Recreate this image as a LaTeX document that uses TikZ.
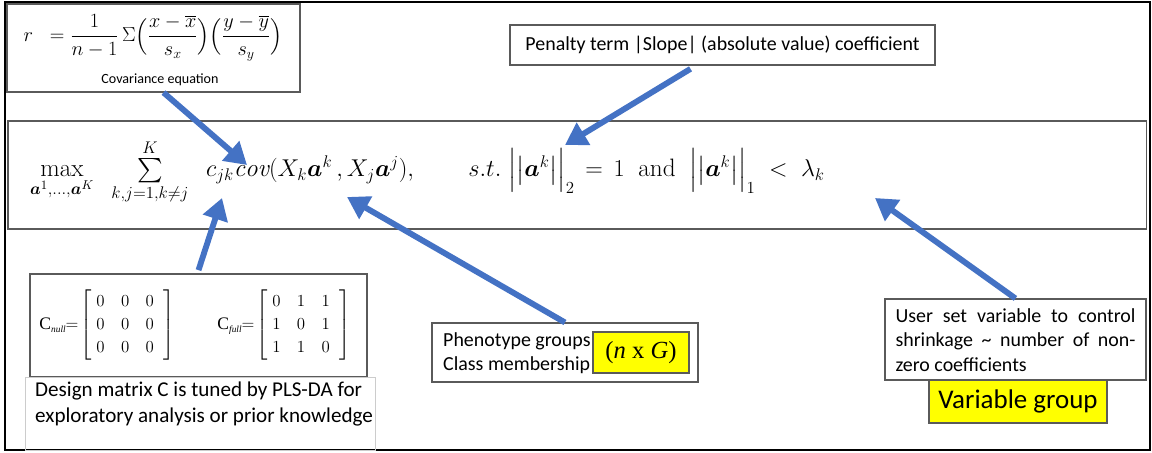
\documentclass[tikz,border=0pt]{standalone}
\usepackage{amsmath}
\usepackage{fontspec}
\usetikzlibrary{arrows.meta, calc}
\newfontfamily\calib{Carlito}
\newfontfamily\timesf{Liberation Serif}
\definecolor{arrblue}{RGB}{68,114,196}
\definecolor{hiyellow}{RGB}{255,255,0}
\definecolor{boxgray}{RGB}{90,90,90}

\begin{document}
\begin{tikzpicture}[x=0.03cm, y=-0.03cm, >=Latex,
  box/.style={draw=boxgray, line width=0.9pt, inner sep=0pt},
  ybox/.style={draw=boxgray, line width=0.9pt, fill=hiyellow, inner sep=0pt},
  txt/.style={font=\calib\fontsize{17}{20}\selectfont, inner sep=0pt},
  mat/.style={inner sep=0pt, font=\timesf\fontsize{15}{18}\selectfont},
  arr/.style={draw=arrblue, line width=5pt, -{Triangle[length=6.5mm, width=7.5mm]}}]

\useasboundingbox (0,0) rectangle (1152,453);
\draw[line width=2.4pt] (5,2) rectangle (1150,450);

% ---------- covariance equation ----------
\node[box, minimum width=8.79cm, minimum height=2.64cm] (covbox) at (153.5,48) {};
\node[inner sep=0pt, font=\fontsize{17.5}{21}\selectfont] (coveq) at (153,38)
  {$r\;\;=\dfrac{1}{n-1}\,\Sigma\Bigl(\dfrac{x-\overline{x}}{s_x}\Bigr)\Bigl(\dfrac{y-\overline{y}}{s_y}\Bigr)$};
\node[txt, font=\calib\fontsize{12}{14}\selectfont] (covlbl) at (160,80) {Covariance equation};

% ---------- penalty term ----------
\node[box, minimum width=12.75cm, minimum height=1.2cm] (penbox) at (722.5,45) {};
\node[txt] (pentxt) at (penbox) {Penalty term |Slope| (absolute value) coefficient};

% ---------- objective ----------
\node[box, minimum width=34.14cm, minimum height=3.24cm] (mainbox) at (577,175) {};
\node[inner sep=0pt, anchor=west, font=\fontsize{21.5}{25}\selectfont] (objeq) at (30,172)
  {$\max\limits_{\boldsymbol{a}^1,\dots,\boldsymbol{a}^K}\;\;
   \sum\limits_{k,j=1,k\neq j}^{K}\;\; c_{jk}\mathit{cov}(X_k\boldsymbol{a}^k\,,X_j\boldsymbol{a}^j),\qquad
   s.t.\;\Bigl|\bigl|\boldsymbol{a}^k\bigr|\Bigr|_2 \,=\, 1\;\;\text{and}\;\;\Bigl|\bigl|\boldsymbol{a}^k\bigr|\Bigr|_1\;<\;\lambda_k$};

% ---------- design matrix ----------
\node[box, minimum width=10.11cm, minimum height=3.09cm] (matbox) at (198.5,325.5) {};
\node[mat] (cnull) at (107,325)
  {C\raisebox{-0.4ex}{\fontsize{8}{9}\selectfont\itshape null}$=\!\left[\;\setlength{\arraycolsep}{7pt}\renewcommand{\arraystretch}{1.1}\begin{matrix}0&0&0\\0&0&0\\0&0&0\end{matrix}\;\;\right]$};
\node[mat] (cfull) at (284,325)
  {C\raisebox{-0.4ex}{\fontsize{8}{9}\selectfont\itshape full}$=\!\left[\;\setlength{\arraycolsep}{7pt}\renewcommand{\arraystretch}{1.1}\begin{matrix}0&1&1\\1&0&1\\1&1&0\end{matrix}\;\;\right]$};
\node[draw=gray!40, line width=0.6pt, minimum width=10.5cm, minimum height=2.19cm, inner sep=0pt] (desbox) at (200,413.5) {};
\node[txt, font=\calib\fontsize{18}{22}\selectfont, align=left, anchor=north west] (destxt) at (35,382)
  {Design matrix C is tuned by PLS-DA for\\exploratory analysis or prior knowledge};

% ---------- phenotype groups ----------
\node[box, minimum width=7.98cm, minimum height=1.77cm] (phenbox) at (565,352.5) {};
\node[txt, align=left, anchor=west] (phentxt) at (443,353) {Phenotype groups\\Class membership};
\node[ybox, minimum width=2.88cm, minimum height=1.23cm, font=\timesf\fontsize{21}{24}\selectfont] (ngbox) at (641,352.5) {(\textit{n} x \textit{G})};

% ---------- shrinkage variable ----------
\node[box, minimum width=7.83cm, minimum height=2.43cm] (userbox) at (1015.5,339.5) {};
\node[txt, font=\calib\fontsize{17}{21}\selectfont, text width=7.2cm, align=justify] (usertxt) at (1015.5,340)
  {User set variable to control\linebreak shrinkage \textasciitilde{} number of non-\linebreak zero coefficients};
\node[ybox, minimum width=5.34cm, minimum height=1.29cm, font=\calib\fontsize{23}{26}\selectfont] (vargrp) at (1018,401.5) {Variable group};

% ---------- arrow tips ----------
\coordinate (covtip) at (247,165);
\coordinate (pentip) at (565,145);
\coordinate (mattip) at (222,198);
\coordinate (phentip) at (347,197);
\coordinate (usertip) at (875,198);

\draw[arr] ([xshift=0.3cm]covbox.south) -- (covtip);
\draw[arr] ([xshift=-0.96cm, yshift=-0.1cm]penbox.south) -- (pentip);
\draw[arr] ([yshift=0.1cm]matbox.north) -- (mattip);
\draw[arr] (phenbox.north) -- (phentip);
\draw[arr] (userbox.north) -- (usertip);

\end{tikzpicture}
\end{document}
